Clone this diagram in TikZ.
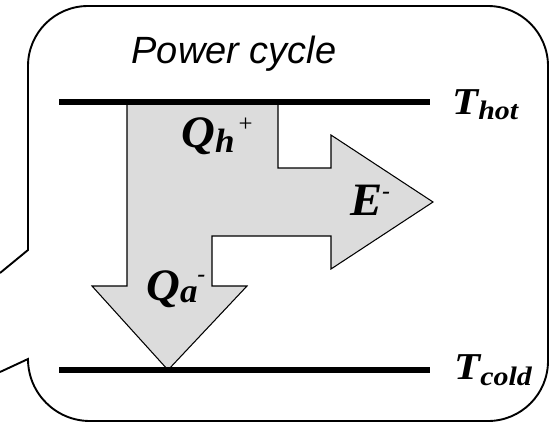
\documentclass[tikz,border=0pt]{standalone}
\usepackage{graphicx}
\usepackage{fontspec}
\setmainfont{Liberation Serif}
\newfontfamily\titlefont{Liberation Sans}
\definecolor{flowgray}{RGB}{220,220,220}

\begin{document}
\begin{tikzpicture}[x = .025cm, y = .025cm,
    level/.style = {line width = 4.3pt},
    flow/.style = {fill = flowgray, draw = black, line width = .75pt},
    qty/.style = {inner sep = 0pt, anchor = base west, font = \bfseries\itshape}]
  \useasboundingbox (0,0) rectangle (558,-423);
  \draw [line width = 1.35pt] (0,-273) -- (28,-250) -- (28,-66)
    arc [start angle = 180, end angle = 90, radius = 60] -- (488,-6)
    arc [start angle = 90, end angle = 0, radius = 60] -- (548,-361)
    arc [start angle = 0, end angle = -90, radius = 60] -- (90,-421)
    arc [start angle = 270, end angle = 180, radius = 62] -- (28,-359) -- (0,-372);
  \node [inner sep = 0pt, anchor = base, font = \titlefont\itshape\fontsize{27}{27}\selectfont]
    (title) at (234,-63) {Power cycle};
  \draw [flow] (127,-102) -- (127,-286) -- (92,-286) -- (168,-370) -- (247,-286)
    -- (212,-286) -- (212,-236) -- (331,-236) -- (331,-269) -- (433,-202)
    -- (331,-135) -- (331,-168) -- (278,-168) -- (278,-102) -- cycle;
  \coordinate (hotL) at (59,-102);
  \coordinate (hotR) at (430,-102);
  \coordinate (coldL) at (59,-370);
  \coordinate (coldR) at (430,-370);
  \draw [level] (hotL) -- (hotR);
  \draw [level] (coldL) -- (coldR);
  \node [qty] (thot) at (452,-114) {\scalebox{1.12}[1]{%
    \fontsize{27}{27}\selectfont T\raisebox{-4pt}{\fontsize{19}{19}\selectfont hot}}};
  \node [qty] (tcold) at (454,-379) {\scalebox{1.12}[1]{%
    \fontsize{27}{27}\selectfont T\raisebox{-4.5pt}{\fontsize{19}{19}\selectfont cold}}};
  \node [qty] (qh) at (181,-147) {\scalebox{1.04}[1]{%
    \fontsize{32}{32}\selectfont Q\raisebox{-4pt}{\fontsize{24}{24}\selectfont h}%
    \raisebox{11pt}{\fontsize{17}{17}\selectfont\mdseries\upshape\,+}}};
  \node [qty] (qa) at (146,-300) {\scalebox{1.04}[1]{%
    \fontsize{32}{32}\selectfont Q\raisebox{-2pt}{\fontsize{24}{24}\selectfont a}%
    \raisebox{13pt}{\fontsize{16}{16}\selectfont -}}};
  \node [qty] (e) at (350,-215) {\scalebox{1.04}[1]{%
    \fontsize{33}{33}\selectfont E\raisebox{12pt}{\fontsize{16}{16}\selectfont -}}};
\end{tikzpicture}
\end{document}
